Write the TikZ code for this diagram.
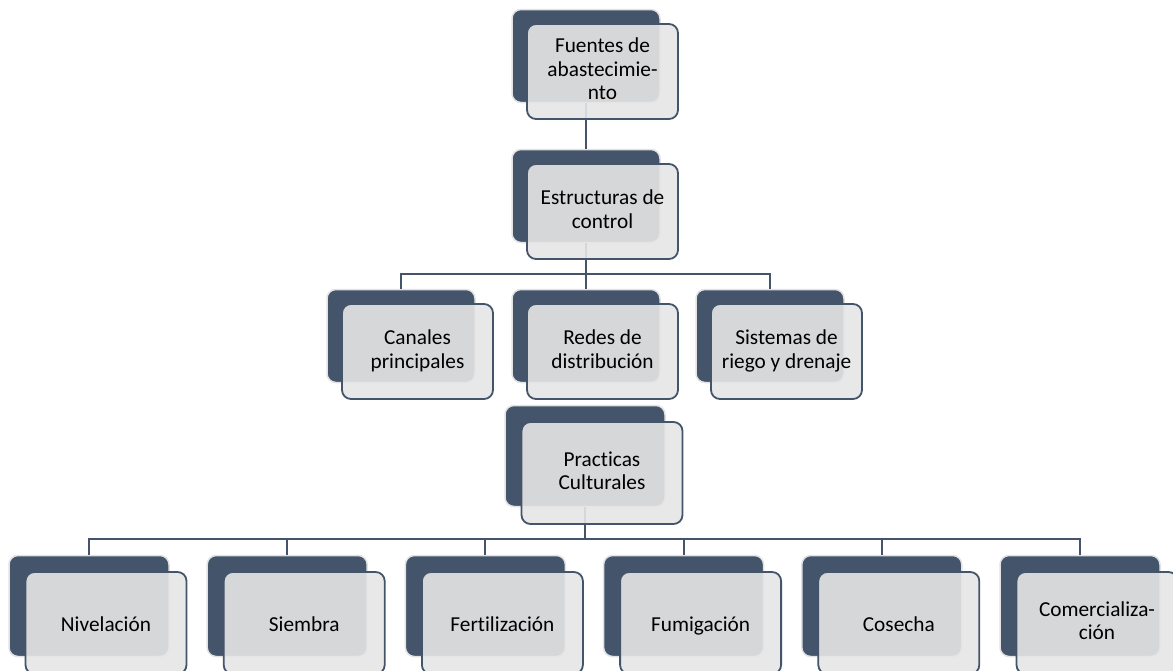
\documentclass[tikz,border=0pt]{standalone}
\usepackage{fontspec}
\setmainfont{Carlito}[Ligatures=NoCommon]
\definecolor{slate}{HTML}{44546A}
\definecolor{rim}{HTML}{E2E2E2}
\definecolor{cardgray}{HTML}{E6E6E6}
% fixed line extent so every label sits at the same height
\newcommand{\labelstrut}{\rule[-5pt]{0pt}{27pt}}
\begin{document}
\begin{tikzpicture}[x=1pt,y=-1pt,
  back/.style={draw=rim, line width=1.5pt, fill=slate, rounded corners=9pt, inner sep=0pt},
  small/.style={minimum width=148pt, minimum height=93pt},
  big/.style={minimum width=160pt, minimum height=101pt},
  card/.style={draw=slate, line width=1.8pt, fill=cardgray, fill opacity=0.9,
    text opacity=1, rounded corners=9pt, inner sep=0pt, align=center,
    font=\fontsize{21.3}{23.5}\selectfont,
    execute at begin node=\labelstrut, execute at end node=\labelstrut},
  cardsmall/.style={card, minimum width=151pt, minimum height=95pt},
  cardbig/.style={card, minimum width=161pt, minimum height=102pt},
  link/.style={draw=slate, line width=2pt}]
\useasboundingbox (0,0) rectangle (1173,670);
\clip (0,0) rectangle (1173,670);

% dark back plates
\node[back,small] (b1) at (586,56) {};
\node[back,small] (b2) at (586,196) {};
\node[back,small] (b3) at (401,336) {};
\node[back,small] (b4) at (586,336) {};
\node[back,small] (b5) at (770,336) {};
\node[back,big]   (b6) at (585,456) {};
\foreach \i/\x in {7/89,8/287.2,9/485.4,10/683.6,11/881.8,12/1080}
  \node[back,big] (b\i) at (\x,606) {};

% connectors
\coordinate (j2) at (586,274);
\coordinate (j6) at (585,539);
\draw[link] (b1.south) -- (b2.north);
\draw[link] (b2.south) -- (j2);
\draw[link] (b3.north) -- (b3.north |- j2) -- (b5.north |- j2) -- (b5.north);
\draw[link] (b4.north) -- (b4.north |- j2);
\draw[link] (b6.south) -- (j6);
\draw[link] (b7.north) -- (b7.north |- j6) -- (b12.north |- j6) -- (b12.north);
\foreach \i in {8,9,10,11}
  \draw[link] (b\i.north) -- (b\i.north |- j6);

% light front cards with the labels
\node[cardsmall] (f1) at ([shift={(16.5,15.5)}]b1.center) {Fuentes de\\abastecimie-\\nto};
\node[cardsmall] (f2) at ([shift={(16.5,15.5)}]b2.center) {Estructuras de\\control};
\node[cardsmall] (f3) at ([shift={(16.5,15.5)}]b3.center) {Canales\\principales};
\node[cardsmall] (f4) at ([shift={(16.5,15.5)}]b4.center) {Redes de\\distribución};
\node[cardsmall] (f5) at ([shift={(16.5,15.5)}]b5.center) {Sistemas de\\riego y drenaje};
\node[cardbig] (f6) at ([shift={(17,17)}]b6.center) {Practicas\\Culturales};
\node[cardbig] (f7) at ([shift={(17,17)}]b7.center) {Nivelación};
\node[cardbig] (f8) at ([shift={(17,17)}]b8.center) {Siembra};
\node[cardbig] (f9) at ([shift={(17,17)}]b9.center) {Fertilización};
\node[cardbig] (f10) at ([shift={(17,17)}]b10.center) {Fumigación};
\node[cardbig] (f11) at ([shift={(17,17)}]b11.center) {Cosecha};
\node[cardbig] (f12) at ([shift={(17,17)}]b12.center) {Comercializa-\\ción};
\end{tikzpicture}
\end{document}
